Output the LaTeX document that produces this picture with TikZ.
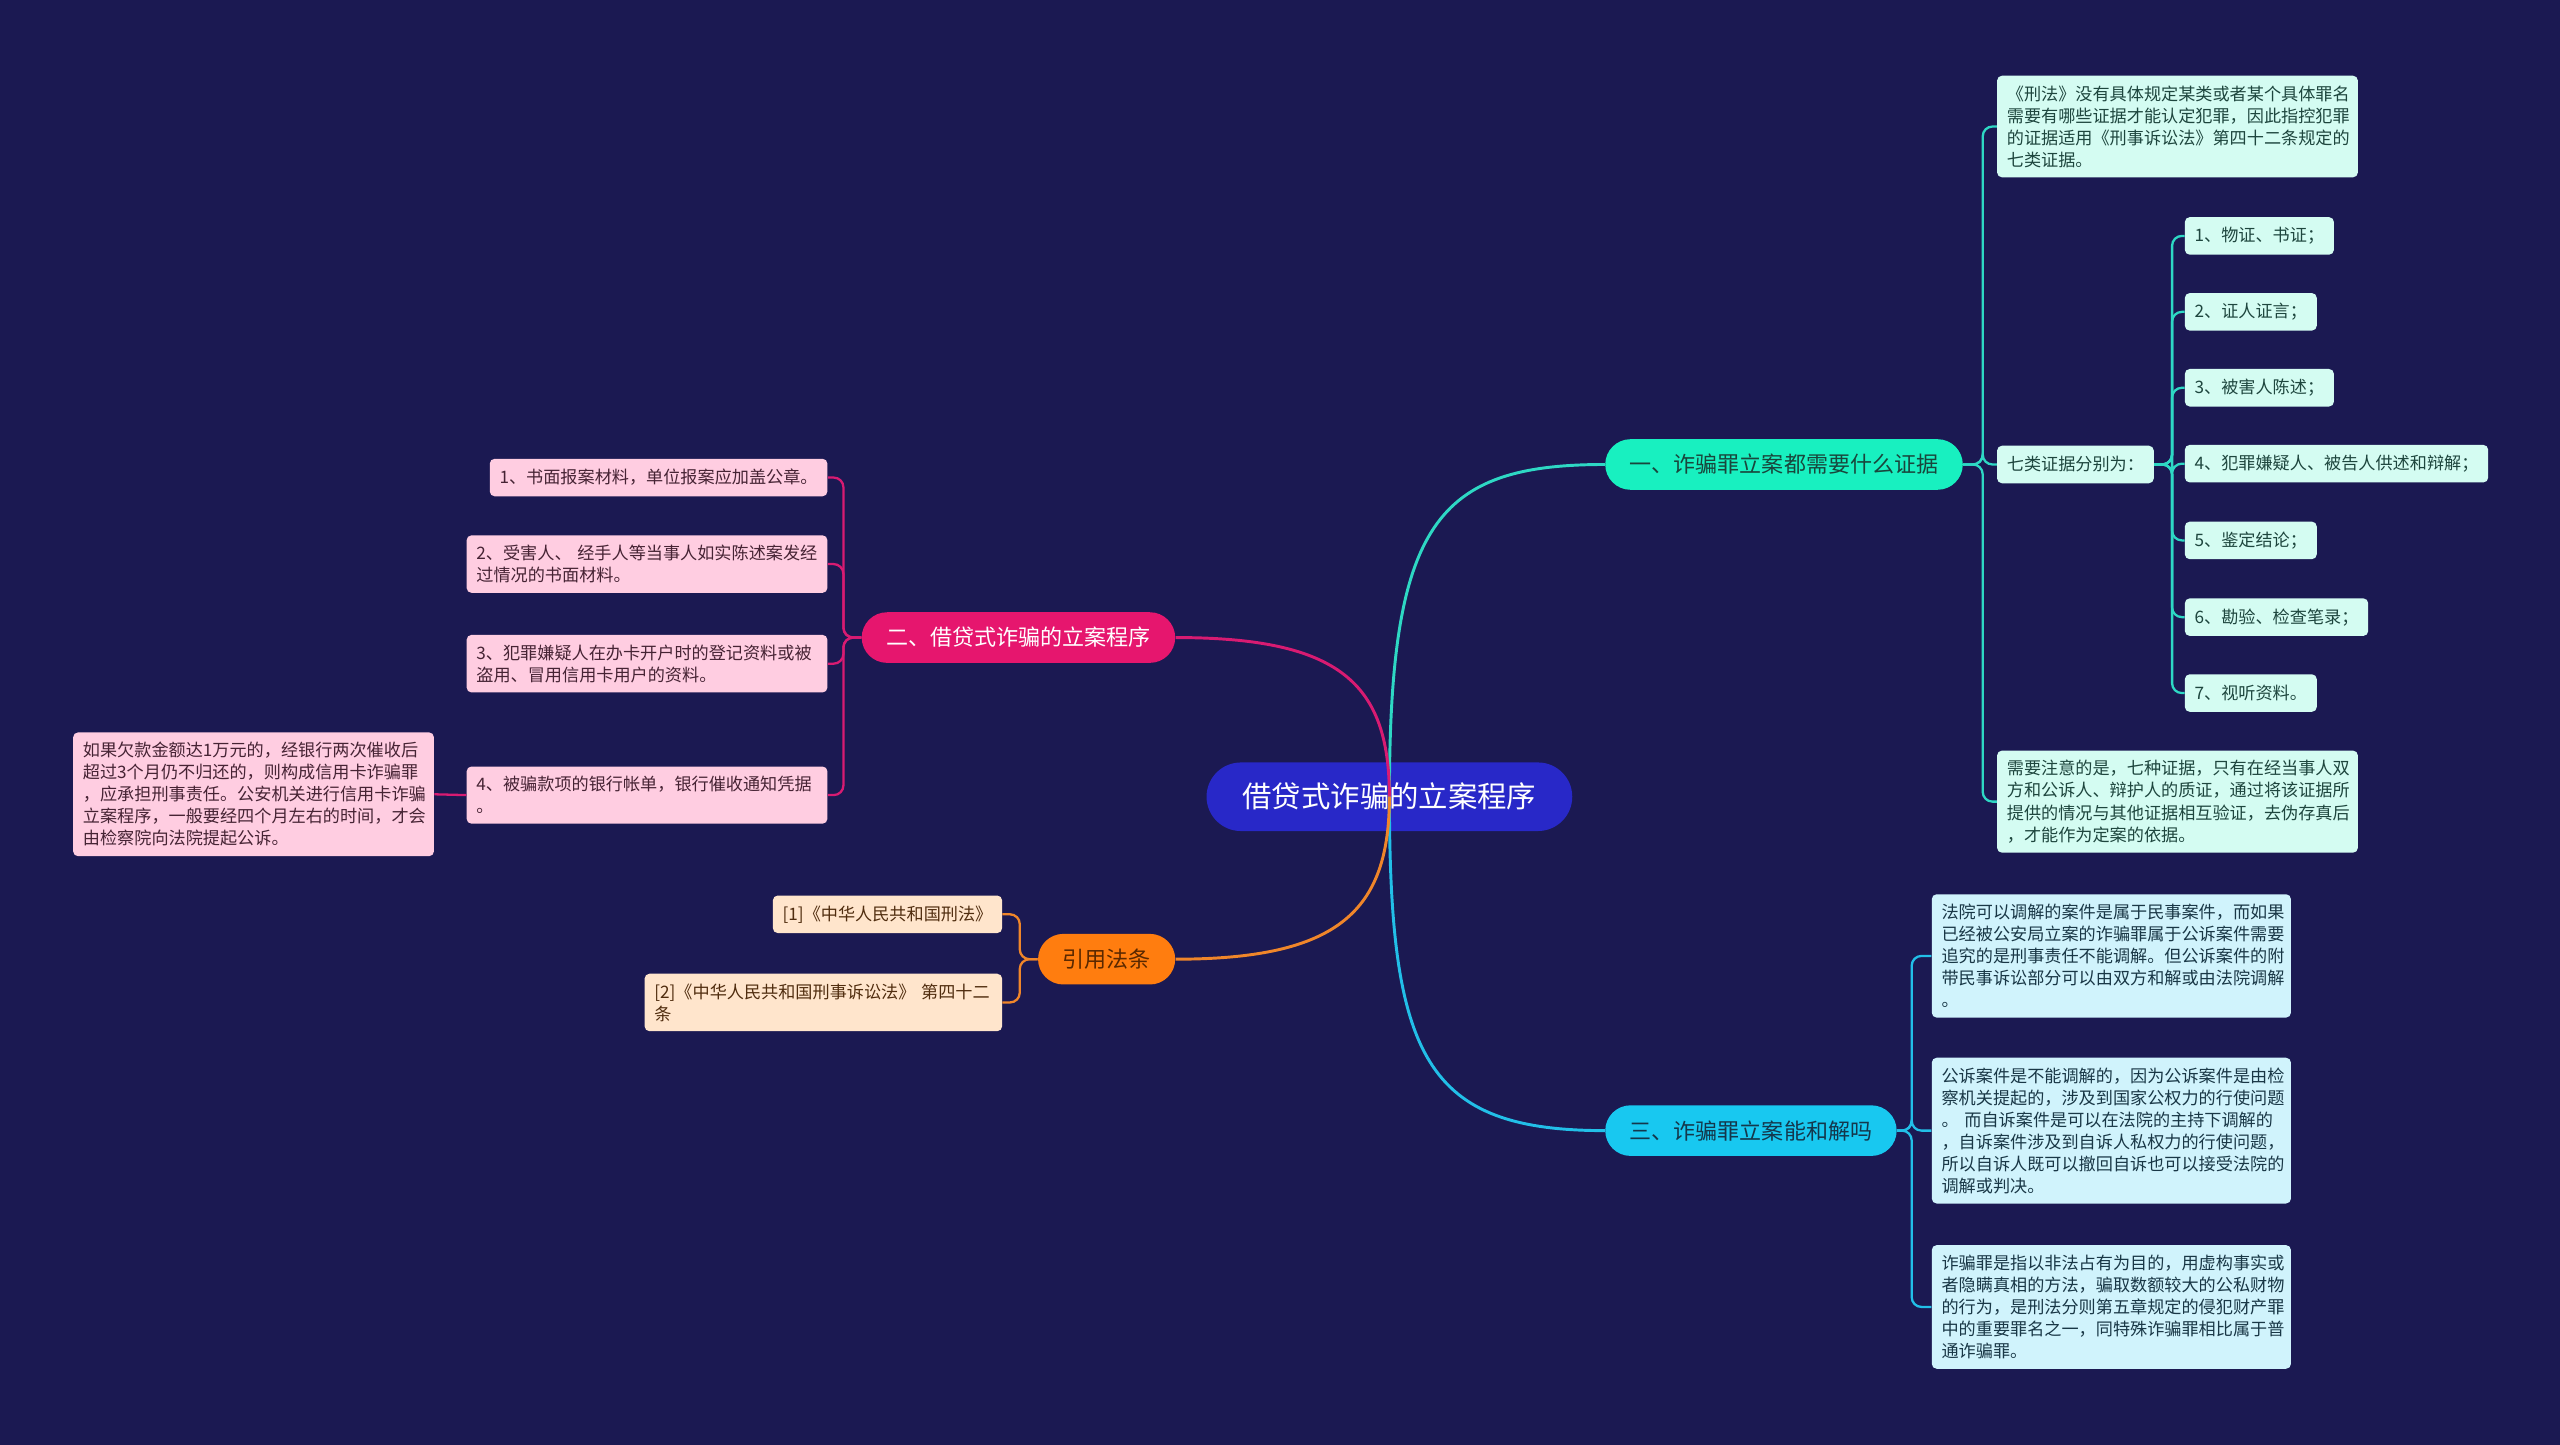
\documentclass[tikz,border=0pt]{standalone}
\usepackage{fontspec}
\setmainfont{Noto Sans CJK SC}
\definecolor{bgcol}{RGB}{27,25,82}
\definecolor{rootfill}{RGB}{40,40,200}
\definecolor{bAfill}{RGB}{24,240,192}
\definecolor{bBfill}{RGB}{230,22,110}
\definecolor{bCfill}{RGB}{255,125,15}
\definecolor{bDfill}{RGB}{24,200,240}
\definecolor{lineA}{RGB}{46,216,196}
\definecolor{lineB}{RGB}{216,27,114}
\definecolor{lineC}{RGB}{240,134,42}
\definecolor{lineD}{RGB}{34,191,232}
\definecolor{mintfill}{RGB}{212,252,242}
\definecolor{pinkfill}{RGB}{255,205,225}
\definecolor{peachfill}{RGB}{255,229,204}
\definecolor{cyanfill}{RGB}{208,243,252}
\definecolor{minttext}{RGB}{30,70,62}
\definecolor{pinktext}{RGB}{70,35,52}
\definecolor{peachtext}{RGB}{80,45,15}
\definecolor{cyantext}{RGB}{25,55,70}
\definecolor{darkA}{RGB}{25,70,60}
\definecolor{darkC}{RGB}{90,40,0}
\definecolor{darkD}{RGB}{20,55,75}
\tikzset{
  leaf/.style={rounded corners=3pt, inner xsep=6pt, inner ysep=6pt, align=left,
    font=\fontsize{10.5}{13.5}\selectfont},
  oneline/.style={leaf, minimum height=23pt},
  mint/.style={fill=mintfill, text=minttext},
  pinkb/.style={fill=pinkfill, text=pinktext},
  peach/.style={fill=peachfill, text=peachtext},
  cyanb/.style={fill=cyanfill, text=cyantext},
  branch/.style={rounded corners=15.5pt, minimum height=31pt, inner xsep=15pt, inner ysep=0pt,
    font=\fontsize{13.5}{16}\selectfont},
  rootnode/.style={rounded corners=21pt, minimum height=42pt, inner xsep=22pt, inner ysep=0pt,
    font=\fontsize{18}{20}\selectfont, fill=rootfill, text=white},
  mainline/.style={line width=1.8pt},
  subline/.style={line width=1.4pt, rounded corners=6pt},
}
\begin{document}
\begin{tikzpicture}[x=1pt,y=-1pt]
\fill[bgcol] (0,0) rectangle (1568,885);
\useasboundingbox (0,0) rectangle (1568,885);

% root
\node[rootnode] (root) at (851,488) {借贷式诈骗的立案程序};

% branches
\node[branch, fill=bAfill, text=darkA, anchor=west] (bA) at (983,284.5) {一、诈骗罪立案都需要什么证据};
\node[branch, fill=bBfill, text=white, anchor=east] (bB) at (720,390.5) {二、借贷式诈骗的立案程序};
\node[branch, fill=bCfill, text=darkC, anchor=east] (bC) at (720,587.5) {引用法条};
\node[branch, fill=bDfill, text=darkD, anchor=west] (bD) at (983,692.5) {三、诈骗罪立案能和解吗};

% branch A children
\node[leaf, mint, anchor=west, text width=209pt] (mA) at (1223,77.5) {《刑法》没有具体规定某类或者某个具体罪名\\需要有哪些证据才能认定犯罪，因此指控犯罪\\的证据适用《刑事诉讼法》第四十二条规定的\\七类证据。};
\node[oneline, mint, anchor=west] (mB) at (1223,284.5) {七类证据分别为：};
\node[leaf, mint, anchor=west, text width=209pt] (mC) at (1223,491) {需要注意的是，七种证据，只有在经当事人双\\方和公诉人、辩护人的质证，通过将该证据所\\提供的情况与其他证据相互验证，去伪存真后\\，才能作为定案的依据。};

\node[oneline, mint, anchor=west] (q1) at (1338,144.5) {1、物证、书证；};
\node[oneline, mint, anchor=west] (q2) at (1338,191) {2、证人证言；};
\node[oneline, mint, anchor=west] (q3) at (1338,237.5) {3、被害人陈述；};
\node[oneline, mint, anchor=west] (q4) at (1338,284) {4、犯罪嫌疑人、被告人供述和辩解；};
\node[oneline, mint, anchor=west] (q5) at (1338,331) {5、鉴定结论；};
\node[oneline, mint, anchor=west] (q6) at (1338,378) {6、勘验、检查笔录；};
\node[oneline, mint, anchor=west] (q7) at (1338,424.5) {7、视听资料。};

% branch B children
\node[oneline, pinkb, anchor=east] (p1) at (507,292.5) {1、书面报案材料，单位报案应加盖公章。};
\node[leaf, pinkb, anchor=east, text width=209pt] (p2) at (507,345.5) {2、受害人、 经手人等当事人如实陈述案发经\\过情况的书面材料。};
\node[leaf, pinkb, anchor=east, text width=209pt] (p3) at (507,406.5) {3、犯罪嫌疑人在办卡开户时的登记资料或被\\盗用、冒用信用卡用户的资料。};
\node[leaf, pinkb, anchor=east, text width=209pt] (p4) at (507,487) {4、被骗款项的银行帐单，银行催收通知凭据\\。};
\node[leaf, pinkb, anchor=east, text width=209pt] (p5) at (266,486.5) {如果欠款金额达1万元的，经银行两次催收后\\超过3个月仍不归还的，则构成信用卡诈骗罪\\，应承担刑事责任。公安机关进行信用卡诈骗\\立案程序，一般要经四个月左右的时间，才会\\由检察院向法院提起公诉。};

% branch C children
\node[oneline, peach, anchor=east] (o1) at (614,560) {[1]《中华人民共和国刑法》};
\node[leaf, peach, anchor=east, text width=207pt] (o2) at (614,614) {[2]《中华人民共和国刑事诉讼法》 第四十二\\条};

% branch D children
\node[leaf, cyanb, anchor=west, text width=208pt] (c1) at (1183,585.5) {法院可以调解的案件是属于民事案件，而如果\\已经被公安局立案的诈骗罪属于公诉案件需要\\追究的是刑事责任不能调解。但公诉案件的附\\带民事诉讼部分可以由双方和解或由法院调解\\。};
\node[leaf, cyanb, anchor=west, text width=208pt] (c2) at (1183,692.5) {公诉案件是不能调解的，因为公诉案件是由检\\察机关提起的，涉及到国家公权力的行使问题\\。 而自诉案件是可以在法院的主持下调解的\\，自诉案件涉及到自诉人私权力的行使问题，\\所以自诉人既可以撤回自诉也可以接受法院的\\调解或判决。};
\node[leaf, cyanb, anchor=west, text width=208pt] (c3) at (1183,800.5) {诈骗罪是指以非法占有为目的，用虚构事实或\\者隐瞒真相的方法，骗取数额较大的公私财物\\的行为，是刑法分则第五章规定的侵犯财产罪\\中的重要罪名之一，同特殊诈骗罪相比属于普\\通诈骗罪。};

% main connectors
\draw[mainline, lineA] (root.center) .. controls +(0,-168) and +(-103,0) .. (bA.west);
\draw[mainline, lineD] (root.center) .. controls +(0,160) and +(-110,0) .. (bD.west);
\draw[mainline, lineB] (root.center) .. controls +(0,-70) and +(100,0) .. (bB.east);
\draw[mainline, lineC] (root.center) .. controls +(0,70) and +(100,0) .. (bC.east);

% branch A sub-connectors
\foreach \n in {mA,mB,mC}
  \draw[subline, lineA] (bA.east) -- ++(12,0) |- (\n.west);
\foreach \n in {q1,q2,q3,q4,q5,q6,q7}
  \draw[subline, lineA] (mB.east) -- ++(11,0) |- (\n.west);

% branch B
\foreach \n in {p1,p2,p3,p4}
  \draw[subline, lineB] (bB.west) -- ++(-11,0) |- (\n.east);
\draw[subline, lineB] (p4.west) -- (p5.east);

% branch C
\foreach \n in {o1,o2}
  \draw[subline, lineC] (bC.west) -- ++(-11,0) |- (\n.east);

% branch D
\foreach \n in {c1,c2,c3}
  \draw[subline, lineD] (bD.east) -- ++(9,0) |- (\n.west);
\end{tikzpicture}
\end{document}
